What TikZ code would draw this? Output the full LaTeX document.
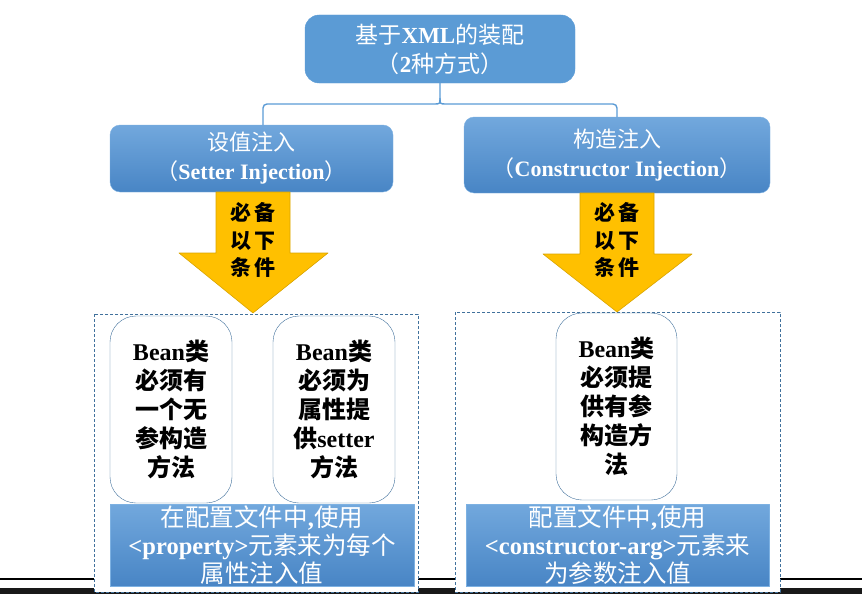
\documentclass[tikz,border=0pt]{standalone}
\usepackage{fontspec}
\setmainfont{Liberation Serif}
\newfontfamily\cjk{Noto Sans CJK SC}
\newcommand{\zh}[1]{{\cjk\mdseries #1}}
\newcommand{\zhb}[1]{{\cjk\bfseries #1}}
\definecolor{blu}{HTML}{5B9BD5}
\definecolor{blutop}{HTML}{72A8DD}
\definecolor{blubot}{HTML}{4885C5}
\definecolor{bluedge}{HTML}{7DB1E2}
\definecolor{slate}{HTML}{41719C}
\definecolor{gold}{HTML}{FFC000}
\definecolor{golddark}{HTML}{D9A400}

\begin{document}
\begin{tikzpicture}[x=1pt,y=-1pt,line join=round,
  topbox/.style={rounded corners=14pt,fill=blu,draw=blu,text=white,align=center,
    font=\bfseries\fontsize{23}{29}\selectfont,inner sep=0pt},
  subbox/.style={rounded corners=10pt,top color=blutop,bottom color=blubot,draw=bluedge,
    text=white,align=center,font=\bfseries\fontsize{22}{29}\selectfont,inner sep=0pt},
  bean/.style={rounded corners=26pt,fill=white,draw=slate,align=center,
    font=\bfseries\fontsize{24}{29}\selectfont,minimum width=122pt,minimum height=187pt,inner sep=0pt},
  usage/.style={top color=blutop,bottom color=blubot,draw=bluedge,text=white,align=center,
    font=\bfseries\fontsize{24.5}{28}\selectfont,minimum height=82pt,inner sep=0pt},
  frame/.style={draw=slate,fill=white,line width=0.8pt,dash pattern=on 3pt off 2pt},
  cond/.style={fill=gold,draw=golddark,line width=0.6pt},
  condtext/.style={align=center,font=\fontsize{21}{27.5}\selectfont},
  link/.style={draw=blu,line width=1.4pt}]
\useasboundingbox (0,0) rectangle (862,594);
% slide edge
\draw[line width=1.5pt] (0,579) -- (862,579);
\fill[black!90] (0,588) rectangle (862,594);
% frames
\draw[frame] (94,314) rectangle (418,592);
\draw[frame] (455,312) rectangle (780,592);
% heads
\node[topbox,minimum width=270pt,minimum height=68pt] (xml) at (440,49)
  {\zh{基于}XML\zh{的装配}\\\zh{（}2\zh{种方式）}};
\node[subbox,minimum width=283pt,minimum height=67pt] (setter) at (251.5,158.5)
  {\zh{设值注入}\\\zh{（}Setter Injection\zh{）}};
\node[subbox,minimum width=306pt,minimum height=76pt] (ctor) at (617,155)
  {\zh{构造注入}\\\zh{（}Constructor Injection\zh{）}};
% tree
\coordinate (fork) at (440,104);
\coordinate (lfoot) at (263,125);
\coordinate (rfoot) at (617,117);
\draw[link] (xml.south) -- ([yshift=6pt]fork) .. controls (fork) .. ([xshift=-6pt]fork)
  [rounded corners=4pt] -| (lfoot);
\draw[link] ([yshift=6pt]fork) .. controls (fork) .. ([xshift=6pt]fork)
  [rounded corners=4pt] -| (rfoot);
% arrows
\draw[cond] (216,192) -- (290,192) -- (290,253) -- (328,253) -- (253,313)
  -- (179,253) -- (216,253) -- cycle;
\node[condtext] (lcond) at (253,240) {\zhb{必\hspace{4pt}备}\\\zhb{以\hspace{4pt}下}\\\zhb{条\hspace{4pt}件}};
\draw[cond] (580,193) -- (654,193) -- (654,254) -- (692,254) -- (617,312)
  -- (543,254) -- (580,254) -- cycle;
\node[condtext] (rcond) at (617,240) {\zhb{必\hspace{4pt}备}\\\zhb{以\hspace{4pt}下}\\\zhb{条\hspace{4pt}件}};
% requirements
\node[bean] (beana) at (171,409.5)
  {Bean\zhb{类}\\\zhb{必须有}\\\zhb{一个无}\\\zhb{参构造}\\\zhb{方法}};
\node[bean] (beanb) at (334,409.5)
  {Bean\zhb{类}\\\zhb{必须为}\\\zhb{属性提}\\\zhb{供}setter\\\zhb{方法}};
\node[bean,minimum width=121pt] (beanc) at (616.5,406.5)
  {Bean\zhb{类}\\\zhb{必须提}\\\zhb{供有参}\\\zhb{构造方}\\\zhb{法}};
% usage
\node[usage,minimum width=304pt] (prop) at (262,545)
  {\zh{在配置文件中},\zh{使用}\\<property>\zh{元素来为每个}\\\zh{属性注入值}};
\node[usage,minimum width=303pt] (carg) at (617.5,545)
  {\zh{配置文件中},\zh{使用}\\<constructor-arg>\zh{元素来}\\\zh{为参数注入值}};
\end{tikzpicture}
\end{document}
